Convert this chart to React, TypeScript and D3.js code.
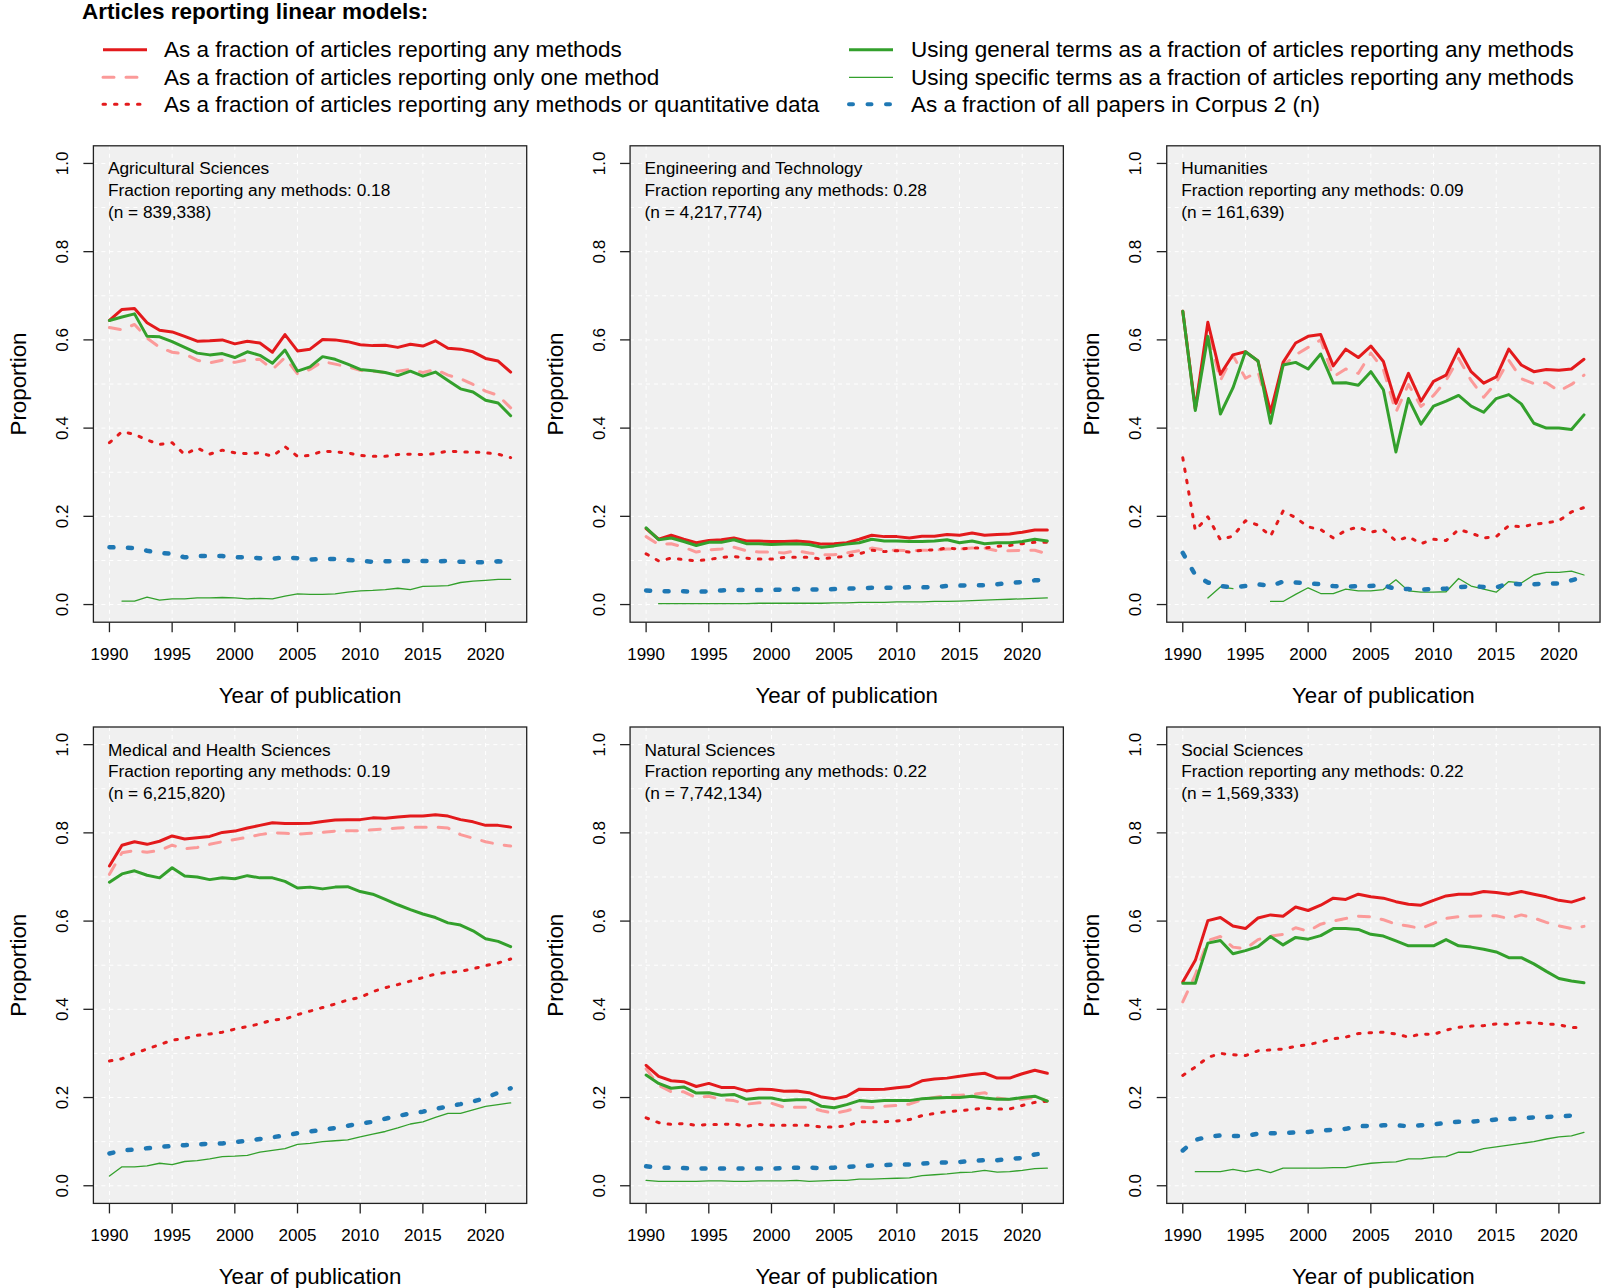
import React from "react";
import * as d3 from "d3";

const years = d3.range(1990, 2023);
const xTicks = [1990, 1995, 2000, 2005, 2010, 2015, 2020];
const yTicks = [0, 0.2, 0.4, 0.6, 0.8, 1.0];
const yGrid = d3.range(0, 11).map((i) => i / 10);

const titleText = "Articles reporting linear models:";
const legendLabels = [
  "As a fraction of articles reporting any methods",
  "As a fraction of articles reporting only one method",
  "As a fraction of articles reporting any methods or quantitative data",
  "Using general terms as a fraction of articles reporting any methods",
  "Using specific terms as a fraction of articles reporting any methods",
  "As a fraction of all papers in Corpus 2 (n)",
];

const fieldNames = ["Agricultural Sciences", "Engineering and Technology", "Humanities", "Medical and Health Sciences", "Natural Sciences", "Social Sciences"];
const fieldFractions = ["0.18", "0.28", "0.09", "0.19", "0.22", "0.22"];
const fieldN = ["839,338", "4,217,774", "161,639", "6,215,820", "7,742,134", "1,569,333"];

// Agricultural Sciences
const agriAny = [0.644,0.669,0.671,0.639,0.622,0.618,0.608,0.597,0.598,0.600,0.591,0.597,0.593,0.572,0.612,0.575,0.579,0.601,0.600,0.596,0.589,0.587,0.588,0.583,0.590,0.586,0.598,0.581,0.579,0.573,0.558,0.552,0.527];
const agriOne = [0.628,0.623,0.635,0.604,0.583,0.572,0.568,0.554,0.548,0.554,0.549,0.555,0.556,0.533,0.560,0.523,0.533,0.551,0.545,0.539,0.531,0.529,0.526,0.529,0.533,0.526,0.533,0.520,0.512,0.499,0.484,0.474,0.446];
const agriQuant = [0.367,0.392,0.386,0.373,0.363,0.367,0.340,0.355,0.341,0.350,0.344,0.342,0.344,0.336,0.358,0.336,0.338,0.348,0.346,0.344,0.338,0.336,0.336,0.340,0.341,0.340,0.342,0.348,0.346,0.346,0.344,0.341,0.333];
const agriGeneral = [0.644,0.652,0.659,0.608,0.607,0.596,0.583,0.570,0.566,0.569,0.560,0.573,0.565,0.547,0.577,0.529,0.539,0.562,0.556,0.545,0.533,0.530,0.526,0.519,0.529,0.518,0.527,0.508,0.489,0.482,0.463,0.457,0.428];
const agriSpecific = [null,0.008,0.008,0.017,0.010,0.013,0.013,0.015,0.015,0.016,0.015,0.013,0.014,0.013,0.019,0.024,0.023,0.023,0.024,0.028,0.031,0.032,0.034,0.037,0.034,0.041,0.042,0.043,0.050,0.053,0.055,0.057,0.057];
const agriCorpus = [0.130,0.129,0.128,0.122,0.117,0.115,0.107,0.110,0.110,0.110,0.107,0.107,0.105,0.104,0.107,0.105,0.102,0.103,0.103,0.101,0.099,0.097,0.098,0.098,0.099,0.099,0.098,0.099,0.097,0.096,0.096,0.098,0.096];

// Engineering and Technology
const engAny = [0.172,0.148,0.157,0.148,0.140,0.145,0.147,0.151,0.144,0.144,0.143,0.143,0.144,0.142,0.137,0.138,0.140,0.148,0.157,0.154,0.154,0.151,0.155,0.155,0.159,0.157,0.162,0.157,0.159,0.160,0.164,0.169,0.169];
const engOne = [0.154,0.136,0.138,0.130,0.119,0.124,0.126,0.130,0.122,0.119,0.119,0.117,0.122,0.117,0.113,0.113,0.117,0.122,0.128,0.124,0.123,0.122,0.123,0.123,0.126,0.126,0.128,0.128,0.122,0.122,0.123,0.123,0.115];
const engQuant = [0.115,0.099,0.105,0.102,0.099,0.102,0.107,0.109,0.105,0.103,0.103,0.107,0.107,0.107,0.103,0.107,0.109,0.115,0.123,0.120,0.122,0.119,0.123,0.124,0.128,0.126,0.128,0.128,0.132,0.134,0.138,0.141,0.141];
const engGeneral = [0.174,0.147,0.151,0.143,0.134,0.141,0.141,0.147,0.138,0.138,0.136,0.137,0.138,0.136,0.130,0.133,0.137,0.140,0.148,0.144,0.144,0.143,0.143,0.144,0.147,0.140,0.144,0.138,0.140,0.140,0.143,0.148,0.144];
const engSpecific = [null,0.002,0.002,0.002,0.002,0.002,0.002,0.002,0.002,0.003,0.003,0.003,0.003,0.003,0.003,0.004,0.004,0.005,0.005,0.005,0.006,0.006,0.006,0.007,0.007,0.008,0.009,0.010,0.011,0.012,0.013,0.014,0.015];
const engCorpus = [0.032,0.030,0.030,0.030,0.029,0.030,0.032,0.033,0.033,0.033,0.033,0.034,0.035,0.034,0.034,0.035,0.036,0.037,0.038,0.038,0.038,0.039,0.039,0.040,0.042,0.043,0.044,0.044,0.046,0.049,0.051,0.055,0.056];

// Humanities
const humAny = [0.665,0.444,0.640,0.522,0.566,0.573,0.552,0.436,0.549,0.593,0.608,0.612,0.541,0.579,0.560,0.586,0.551,0.456,0.524,0.461,0.506,0.520,0.579,0.528,0.502,0.516,0.579,0.543,0.528,0.533,0.531,0.534,0.556];
const humOne = [0.665,0.444,0.620,0.508,0.565,0.513,0.528,0.428,0.541,0.566,0.583,0.600,0.516,0.534,0.524,0.570,0.533,0.436,0.499,0.449,0.474,0.508,0.558,0.508,0.470,0.503,0.554,0.512,0.501,0.503,0.484,0.499,0.520];
const humQuant = [0.333,0.168,0.199,0.147,0.155,0.190,0.180,0.155,0.212,0.197,0.176,0.170,0.151,0.168,0.176,0.164,0.170,0.144,0.154,0.138,0.148,0.145,0.170,0.162,0.151,0.154,0.179,0.176,0.182,0.185,0.190,0.210,0.220];
const humGeneral = [0.665,0.440,0.608,0.432,0.491,0.573,0.552,0.411,0.543,0.549,0.534,0.568,0.502,0.503,0.497,0.528,0.487,0.346,0.467,0.409,0.450,0.461,0.474,0.450,0.436,0.467,0.476,0.455,0.411,0.400,0.400,0.397,0.430];
const humSpecific = [null,null,0.015,0.040,0.036,null,null,0.007,0.007,0.023,0.038,0.025,0.025,0.035,0.031,0.031,0.034,0.056,0.031,0.028,0.028,0.029,0.059,0.042,0.035,0.028,0.052,0.049,0.067,0.073,0.073,0.076,0.067];
const humCorpus = [0.117,0.067,0.050,0.042,0.039,0.042,0.046,0.042,0.052,0.050,0.048,0.046,0.042,0.040,0.042,0.042,0.044,0.035,0.035,0.034,0.035,0.036,0.039,0.042,0.040,0.039,0.048,0.046,0.046,0.048,0.048,0.055,0.063];

// Medical and Health Sciences
const medAny = [0.725,0.772,0.780,0.774,0.781,0.793,0.786,0.789,0.792,0.801,0.804,0.811,0.817,0.823,0.821,0.821,0.822,0.826,0.829,0.830,0.830,0.834,0.833,0.836,0.838,0.838,0.841,0.838,0.830,0.825,0.817,0.817,0.813];
const medOne = [0.706,0.755,0.760,0.756,0.760,0.772,0.764,0.767,0.774,0.780,0.785,0.790,0.796,0.800,0.799,0.797,0.799,0.801,0.804,0.805,0.805,0.807,0.809,0.811,0.813,0.813,0.813,0.811,0.796,0.788,0.780,0.774,0.770];
const medQuant = [0.283,0.288,0.300,0.310,0.320,0.330,0.334,0.341,0.344,0.348,0.355,0.361,0.367,0.376,0.378,0.388,0.396,0.404,0.412,0.421,0.427,0.440,0.449,0.456,0.464,0.472,0.480,0.484,0.486,0.492,0.499,0.505,0.514];
const medGeneral = [0.688,0.707,0.714,0.704,0.698,0.721,0.702,0.700,0.694,0.698,0.696,0.703,0.698,0.698,0.690,0.675,0.677,0.673,0.677,0.678,0.667,0.661,0.649,0.637,0.626,0.616,0.608,0.596,0.591,0.578,0.560,0.554,0.542];
const medSpecific = [0.022,0.043,0.043,0.045,0.051,0.048,0.055,0.057,0.061,0.066,0.067,0.069,0.076,0.080,0.084,0.094,0.096,0.100,0.102,0.104,0.111,0.117,0.123,0.131,0.140,0.145,0.155,0.164,0.164,0.172,0.180,0.184,0.188];
const medCorpus = [0.073,0.080,0.082,0.085,0.088,0.090,0.092,0.094,0.095,0.096,0.099,0.102,0.106,0.110,0.114,0.119,0.123,0.127,0.131,0.136,0.141,0.145,0.152,0.158,0.164,0.168,0.174,0.180,0.185,0.191,0.199,0.211,0.221];

// Natural Sciences
const natAny = [0.273,0.248,0.238,0.236,0.225,0.232,0.223,0.223,0.215,0.219,0.218,0.214,0.215,0.211,0.201,0.197,0.203,0.219,0.218,0.219,0.222,0.225,0.238,0.242,0.244,0.248,0.252,0.255,0.244,0.244,0.254,0.262,0.255];
const natOne = [0.265,0.228,0.213,0.213,0.200,0.203,0.195,0.193,0.185,0.188,0.187,0.178,0.178,0.178,0.170,0.164,0.170,0.178,0.177,0.180,0.182,0.185,0.195,0.200,0.205,0.205,0.207,0.211,0.199,0.195,0.196,0.200,0.192];
const natQuant = [0.154,0.143,0.139,0.141,0.137,0.139,0.139,0.140,0.135,0.139,0.137,0.137,0.137,0.137,0.133,0.133,0.136,0.145,0.145,0.145,0.147,0.150,0.159,0.164,0.168,0.170,0.173,0.176,0.174,0.174,0.182,0.189,0.192];
const natGeneral = [0.251,0.232,0.221,0.224,0.210,0.211,0.205,0.207,0.196,0.199,0.199,0.193,0.195,0.195,0.180,0.177,0.184,0.193,0.191,0.193,0.193,0.193,0.197,0.199,0.200,0.200,0.203,0.199,0.196,0.196,0.200,0.203,0.192];
const natSpecific = [0.012,0.010,0.010,0.010,0.010,0.011,0.011,0.010,0.010,0.011,0.011,0.011,0.012,0.010,0.011,0.012,0.012,0.015,0.015,0.016,0.017,0.018,0.023,0.025,0.027,0.030,0.031,0.035,0.031,0.032,0.035,0.039,0.040];
const natCorpus = [0.044,0.041,0.041,0.040,0.039,0.039,0.039,0.039,0.039,0.039,0.039,0.040,0.041,0.041,0.040,0.041,0.043,0.044,0.046,0.047,0.048,0.048,0.050,0.052,0.053,0.054,0.056,0.058,0.058,0.061,0.063,0.071,0.074];

// Social Sciences
const socAny = [0.462,0.511,0.601,0.608,0.589,0.583,0.607,0.614,0.611,0.632,0.624,0.636,0.652,0.649,0.661,0.655,0.652,0.644,0.638,0.636,0.647,0.657,0.661,0.661,0.667,0.665,0.661,0.667,0.661,0.655,0.647,0.643,0.652];
const socOne = [0.417,0.478,0.556,0.565,0.541,0.537,0.558,0.566,0.570,0.585,0.577,0.593,0.600,0.606,0.611,0.610,0.603,0.593,0.589,0.583,0.595,0.606,0.610,0.611,0.612,0.612,0.606,0.614,0.607,0.597,0.589,0.583,0.588];
const socQuant = [0.250,0.269,0.291,0.300,0.297,0.295,0.306,0.308,0.310,0.316,0.320,0.326,0.333,0.337,0.345,0.347,0.348,0.344,0.337,0.344,0.343,0.353,0.359,0.362,0.363,0.367,0.366,0.370,0.369,0.367,0.365,0.359,0.359];
const socGeneral = [0.459,0.459,0.550,0.556,0.526,0.533,0.542,0.565,0.546,0.563,0.559,0.567,0.583,0.583,0.581,0.570,0.566,0.555,0.544,0.544,0.544,0.558,0.544,0.541,0.536,0.530,0.517,0.517,0.503,0.486,0.470,0.464,0.460];
const socSpecific = [null,0.032,0.032,0.032,0.037,0.032,0.037,0.030,0.040,0.040,0.040,0.040,0.041,0.041,0.047,0.051,0.053,0.054,0.061,0.061,0.065,0.066,0.076,0.076,0.084,0.088,0.092,0.096,0.100,0.106,0.111,0.113,0.121];
const socCorpus = [0.080,0.104,0.111,0.114,0.113,0.113,0.118,0.119,0.119,0.121,0.122,0.125,0.127,0.129,0.135,0.136,0.137,0.137,0.135,0.137,0.139,0.143,0.145,0.145,0.148,0.150,0.151,0.153,0.155,0.156,0.157,0.159,0.159];

const panelSeries = [
  [agriAny, agriOne, agriQuant, agriGeneral, agriSpecific, agriCorpus],
  [engAny, engOne, engQuant, engGeneral, engSpecific, engCorpus],
  [humAny, humOne, humQuant, humGeneral, humSpecific, humCorpus],
  [medAny, medOne, medQuant, medGeneral, medSpecific, medCorpus],
  [natAny, natOne, natQuant, natGeneral, natSpecific, natCorpus],
  [socAny, socOne, socQuant, socGeneral, socSpecific, socCorpus],
];

// styles: index matches legendLabels
const RED = "#E31A1C";
const PINK = "#FB9A99";
const GREEN = "#33A02C";
const BLUE = "#1F78B4";
const styles = [
  { color: RED, width: 3, dash: null },
  { color: PINK, width: 3, dash: "11,12" },
  { color: RED, width: 3, dash: "2.5,9" },
  { color: GREEN, width: 3, dash: null },
  { color: GREEN, width: 1.3, dash: null },
  { color: BLUE, width: 4.5, dash: "4,14.5" },
];
const drawOrder = [1, 0, 2, 3, 4, 5];

const FONT = "'Liberation Sans', Arial, sans-serif";
const W = 1610;
const H = 1288;
const colW = W / 3;
const boxLeftOff = 93.4;
const boxRightOff = 526.7;
const rowTops = [145.8, 727];
const boxH = 476.4;

function Panel({ idx }: { idx: number }) {
  const col = idx % 3;
  const row = Math.floor(idx / 3);
  const left = col * colW + boxLeftOff;
  const right = col * colW + boxRightOff;
  const top = rowTops[row];
  const bottom = top + boxH;
  const x = d3.scaleLinear().domain([1988.72, 2023.28]).range([left, right]);
  const y = d3.scaleLinear().domain([-0.04, 1.04]).range([bottom, top]);
  const series = panelSeries[idx];
  const line = d3
    .line<number | null>()
    .defined((d) => d !== null)
    .x((_, i) => x(years[i]))
    .y((d) => y(d as number));
  const cx = (left + right) / 2;
  const cy = (top + bottom) / 2;
  const clipId = `clip${idx}`;
  return (
    <g>
      <defs>
        <clipPath id={clipId}>
          <rect x={left} y={top} width={right - left} height={bottom - top} />
        </clipPath>
      </defs>
      <rect x={left} y={top} width={right - left} height={bottom - top} fill="#F0F0F0" />
      {xTicks.map((t) => (
        <line key={"gx" + t} x1={x(t)} x2={x(t)} y1={top} y2={bottom} stroke="#FFFFFF" strokeWidth={1} strokeDasharray="4,4" />
      ))}
      {yGrid.map((t) => (
        <line key={"gy" + t} x1={left} x2={right} y1={y(t)} y2={y(t)} stroke="#FFFFFF" strokeWidth={1} strokeDasharray="4,4" />
      ))}
      <g clipPath={`url(#${clipId})`}>
        {drawOrder.map((k) => (
          <path
            key={k}
            d={line(series[k] as (number | null)[]) || ""}
            fill="none"
            stroke={styles[k].color}
            strokeWidth={styles[k].width}
            strokeDasharray={styles[k].dash || undefined}
            strokeLinecap="round"
            strokeLinejoin="round"
          />
        ))}
      </g>
      <rect x={left} y={top} width={right - left} height={bottom - top} fill="none" stroke="#222" strokeWidth={1.3} />
      {/* x axis */}
      {xTicks.map((t) => (
        <g key={"xt" + t}>
          <line x1={x(t)} x2={x(t)} y1={bottom} y2={bottom + 10} stroke="#222" strokeWidth={1.3} />
          <text x={x(t)} y={bottom + 32} textAnchor="middle" dominantBaseline="central" fontSize={17} fontFamily={FONT} fill="#000">
            {t}
          </text>
        </g>
      ))}
      {/* y axis */}
      {yTicks.map((t) => (
        <g key={"yt" + t}>
          <line x1={left - 10} x2={left} y1={y(t)} y2={y(t)} stroke="#222" strokeWidth={1.3} />
          <text
            transform={`translate(${left - 31},${y(t)}) rotate(-90)`}
            textAnchor="middle"
            dominantBaseline="central"
            fontSize={17}
            fontFamily={FONT}
            fill="#000"
          >
            {t.toFixed(1)}
          </text>
        </g>
      ))}
      <text x={cx} y={bottom + 73} textAnchor="middle" dominantBaseline="central" fontSize={22.3} fontFamily={FONT} fill="#000">
        Year of publication
      </text>
      <text
        transform={`translate(${left - 75},${cy}) rotate(-90)`}
        textAnchor="middle"
        dominantBaseline="central"
        fontSize={22.3}
        fontFamily={FONT}
        fill="#000"
      >
        Proportion
      </text>
      {[fieldNames[idx], `Fraction reporting any methods: ${fieldFractions[idx]}`, `(n = ${fieldN[idx]})`].map((s, i) => (
        <text key={i} x={left + 14.5} y={top + 22.6 + i * 21.6} dominantBaseline="central" fontSize={17.3} fontFamily={FONT} fill="#000">
          {s}
        </text>
      ))}
    </g>
  );
}

function Legend() {
  const rowsY = [49.7, 77.3, 104.3];
  const cols = [
    { x1: 103, x2: 147, tx: 164 },
    { x1: 849, x2: 893, tx: 911 },
  ];
  return (
    <g>
      <text x={82} y={11.5} dominantBaseline="central" fontSize={22.5} fontWeight="bold" fontFamily={FONT} fill="#000">
        {titleText}
      </text>
      {legendLabels.map((lab, i) => {
        const c = cols[Math.floor(i / 3)];
        const yy = rowsY[i % 3];
        const st = styles[i];
        return (
          <g key={i}>
            <line
              x1={c.x1}
              x2={c.x2}
              y1={yy}
              y2={yy}
              stroke={st.color}
              strokeWidth={i === 5 ? 4 : st.width}
              strokeDasharray={st.dash || undefined}
              strokeLinecap={st.dash ? "round" : "butt"}
            />
            <text x={c.tx} y={yy} dominantBaseline="central" fontSize={22.5} fontFamily={FONT} fill="#000">
              {lab}
            </text>
          </g>
        );
      })}
    </g>
  );
}

export default function App() {
  return (
    <div style={{ position: "absolute", left: 0, top: 0, width: W, height: H, background: "#fff" }}>
      <svg width={W} height={H} viewBox={`0 0 ${W} ${H}`} style={{ display: "block" }}>
        <rect x={0} y={0} width={W} height={H} fill="#FFFFFF" />
        <Legend />
        {d3.range(6).map((i) => (
          <Panel key={i} idx={i} />
        ))}
      </svg>
    </div>
  );
}
